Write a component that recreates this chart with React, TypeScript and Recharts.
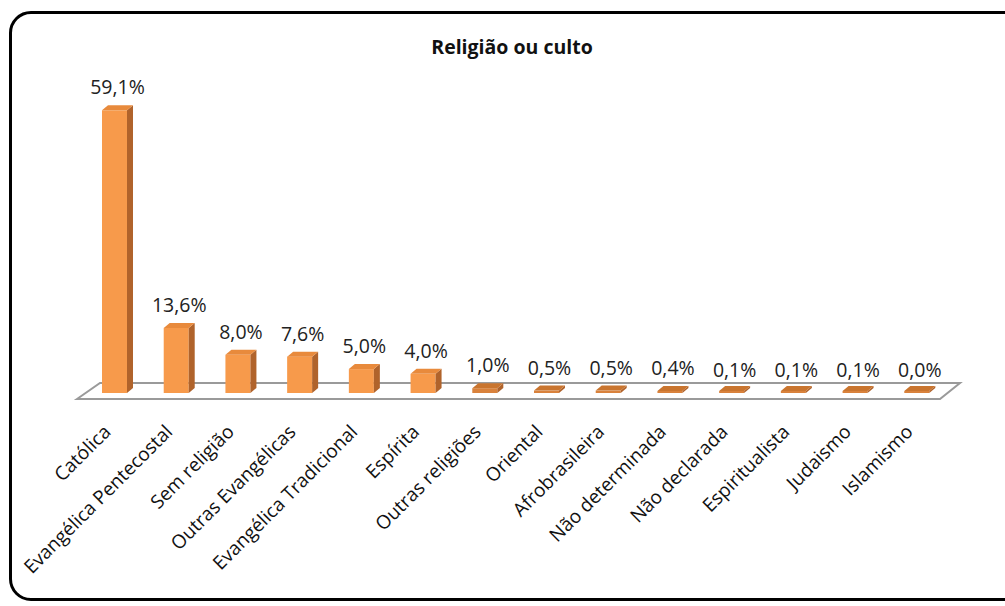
import { BarChart, Bar, XAxis, YAxis, LabelList } from 'recharts';

const categories = [
  'Católica',
  'Evangélica Pentecostal',
  'Sem religião',
  'Outras Evangélicas',
  'Evangélica Tradicional',
  'Espírita',
  'Outras religiões',
  'Oriental',
  'Afrobrasileira',
  'Não determinada',
  'Não declarada',
  'Espiritualista',
  'Judaismo',
  'Islamismo',
];
const percentages = [59.1, 13.6, 8.0, 7.6, 5.0, 4.0, 1.0, 0.5, 0.5, 0.4, 0.1, 0.1, 0.1, 0.0];

const data = categories.map((name, i) => ({ name, value: percentages[i] }));

const W = 1005;
const H = 606;
const margin = { top: 106, right: 57, bottom: 183, left: 84 };
const DX = 6;
const DY = 5;
const FONT = '"Open Sans", "Noto Sans", sans-serif';

const fmt = (v: number) => v.toFixed(1).replace('.', ',') + '%';

const Bar3D = (props: any) => {
  const { x, y, width } = props;
  let h = props.height || 0;
  let top = y;
  if (h < 2) {
    h = 2;
    top = y + (props.height || 0) - 2;
  }
  const small = (props.height || 0) < 6;
  return (
    <g>
      <rect x={x} y={top} width={width} height={h} fill={small ? '#D9823C' : '#F79A4B'} />
      <polygon
        points={`${x + width},${top} ${x + width + DX},${top - DY} ${x + width + DX},${top + h - DY} ${x + width},${top + h}`}
        fill="#B0632B"
      />
      <polygon
        points={`${x},${top} ${x + DX},${top - DY} ${x + width + DX},${top - DY} ${x + width},${top}`}
        fill={small ? '#C9752F' : '#E88A3C'}
      />
    </g>
  );
};

const ValueLabel = (props: any) => {
  const { x, y, width, value } = props;
  return (
    <text
      x={x + width / 2 + DX / 2}
      y={y - 16}
      textAnchor="middle"
      fontFamily={FONT}
      fontSize={19.5}
      fill="#222"
    >
      {fmt(value)}
    </text>
  );
};

const SlantTick = (props: any) => {
  const { x, payload } = props;
  const ax = x - 3;
  const ay = 433;
  return (
    <text
      x={ax}
      y={ay}
      textAnchor="end"
      transform={`rotate(-45, ${ax}, ${ay})`}
      fontFamily={FONT}
      fontSize={19}
      fill="#111"
    >
      {payload.value}
    </text>
  );
};

const Floor = () => {
  const l = margin.left;
  const r = W - margin.right;
  const pts = `${l - 7},399 ${l + 16},383 ${r + 12},383 ${r - 8},399`;
  return (
    <svg width={W} height={H} style={{ position: 'absolute', left: 0, top: 0 }}>
      <polygon points={pts} fill="#fff" stroke="#9a9a9a" strokeWidth={2} />
    </svg>
  );
};

export default function App() {
  return (
    <div
      style={{
        position: 'absolute',
        left: 0,
        top: 0,
        width: W,
        height: H,
        overflow: 'hidden',
        background: '#fff',
      }}
    >
      <div
        style={{
          position: 'absolute',
          left: 9,
          top: 11,
          width: 1020,
          height: 590,
          border: '3px solid #000',
          borderRadius: 22,
          boxSizing: 'border-box',
        }}
      />
      <Floor />
      <div
        style={{
          position: 'absolute',
          left: 0,
          top: 33,
          width: 1024,
          textAlign: 'center',
          fontFamily: FONT,
          fontWeight: 'bold',
          fontSize: 19.5,
          color: '#111',
        }}
      >
        Religião ou culto
      </div>
      <div style={{ position: 'absolute', left: 0, top: 0 }}>
        <BarChart width={W} height={H} data={data} margin={margin} barSize={25}>
          <XAxis
            dataKey="name"
            height={30}
            axisLine={false}
            tickLine={false}
            interval={0}
            tick={<SlantTick />}
          />
          <YAxis hide domain={[0, 60]} />
          <Bar dataKey="value" shape={<Bar3D />} isAnimationActive={false}>
            <LabelList dataKey="value" content={<ValueLabel />} />
          </Bar>
        </BarChart>
      </div>
    </div>
  );
}
